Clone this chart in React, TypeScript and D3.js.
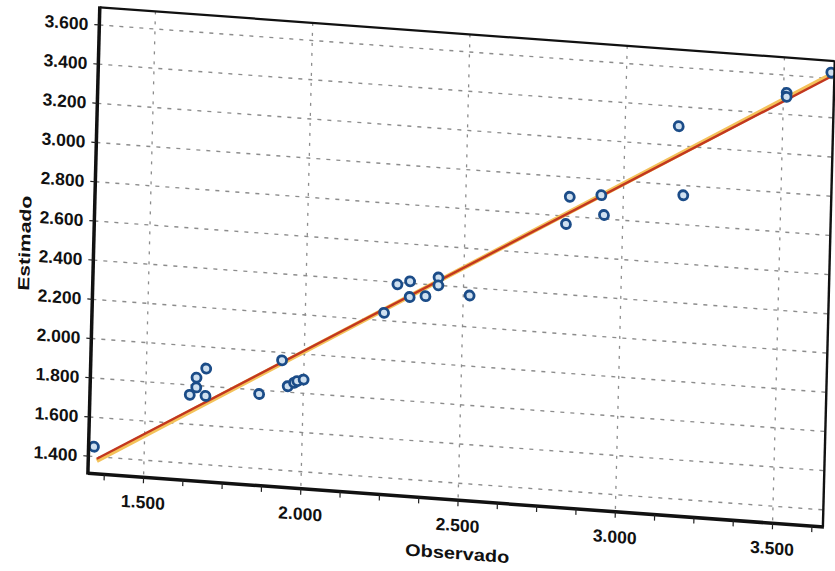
import React from "react";
import * as d3 from "d3";

const observed = [
  1.34, 1.64, 1.66, 1.66, 1.69, 1.69, 1.86, 1.93, 1.95, 1.97, 1.98, 2.0,
  2.25, 2.29, 2.33, 2.33, 2.38, 2.42, 2.42, 2.52,
  2.83, 2.82, 2.93, 2.94, 3.17, 3.19, 3.51, 3.51, 3.65,
];
const estimated = [
  1.45, 1.75, 1.79, 1.84, 1.89, 1.75, 1.78, 1.96, 1.83, 1.85, 1.86, 1.87,
  2.24, 2.39, 2.41, 2.33, 2.34, 2.44, 2.4, 2.36,
  2.9, 2.76, 2.92, 2.82, 3.3, 2.95, 3.51, 3.49, 3.63,
];

// Fitted lines (endpoints)
const fitObs = [1.35, 3.65];
const fitEstRed = [1.39, 3.61];
const fitEstYellow = [1.38, 3.62];

const xTicks = [1.5, 2.0, 2.5, 3.0, 3.5];
const xTickLabels = ["1.500", "2.000", "2.500", "3.000", "3.500"];
const yTicks = [1.4, 1.6, 1.8, 2.0, 2.2, 2.4, 2.6, 2.8, 3.0, 3.2, 3.4, 3.6];
const yTickLabels = [
  "1.400", "1.600", "1.800", "2.000", "2.200", "2.400",
  "2.600", "2.800", "3.000", "3.200", "3.400", "3.600",
];
const xAxisTitle = "Observado";
const yAxisTitle = "Estimado";

const W = 835;
const H = 571;
const DOMAIN = { xMin: 1.323, xMax: 3.66, yMin: 1.313, yMax: 3.69 };

export default function App() {
  const x = d3.scaleLinear().domain([1.5, 3.5]).range([155, 784]);
  const y = d3.scaleLinear().domain([1.4, 3.6]).range([460.2, 29]);
  const left = x(DOMAIN.xMin);
  const right = x(DOMAIN.xMax);
  const top = y(DOMAIN.yMax);
  const bottom = y(DOMAIN.yMin);
  const minorTicks = d3.range(1.375, DOMAIN.xMax, 0.125);
  const font = "'Liberation Sans', Arial, sans-serif";
  const line = d3
    .line<[number, number]>()
    .x((d) => x(d[0]))
    .y((d) => y(d[1]));
  const redPts: [number, number][] = fitObs.map((o, i) => [o, fitEstRed[i]]);
  const yelPts: [number, number][] = fitObs.map((o, i) => [o, fitEstYellow[i]]);

  return (
    <svg
      width={W}
      height={H}
      style={{ position: "absolute", left: 0, top: 0, background: "#fff" }}
    >
      <rect width={W} height={H} fill="#fff" />
      <g transform="matrix(1,0.07313,-0.02551,1,0.740,-11.335)">
        {/* grid */}
        {yTicks.map((t) => (
          <line
            key={"gy" + t}
            x1={left}
            x2={right}
            y1={y(t)}
            y2={y(t)}
            stroke="#8c8c8c"
            strokeWidth={1.4}
            strokeDasharray="4 6"
          />
        ))}
        {xTicks.map((t) => (
          <line
            key={"gx" + t}
            x1={x(t)}
            x2={x(t)}
            y1={top}
            y2={bottom}
            stroke="#8c8c8c"
            strokeWidth={1.3}
            strokeDasharray="3 7"
          />
        ))}
        {/* fitted lines */}
        <path d={line(yelPts) || ""} stroke="#f4c25a" strokeWidth={4.5} fill="none" />
        <path d={line(redPts) || ""} stroke="#c2371f" strokeWidth={2.4} fill="none" />
        {/* points */}
        {observed.map((o, i) => (
          <circle
            key={"p" + i}
            cx={x(o)}
            cy={y(estimated[i])}
            r={4.5}
            fill="#cfe0f0"
            stroke="#1b4c88"
            strokeWidth={2.8}
          />
        ))}
        {/* frame */}
        <line x1={left} x2={right} y1={top} y2={top} stroke="#111" strokeWidth={2.2} />
        <line x1={right} x2={right} y1={top} y2={bottom} stroke="#111" strokeWidth={2.4} />
        <line x1={left} x2={left} y1={top - 1} y2={bottom + 1.5} stroke="#111" strokeWidth={3.5} />
        <line x1={left} x2={right + 1} y1={bottom} y2={bottom} stroke="#111" strokeWidth={3.5} />
        {/* ticks */}
        {minorTicks.map((t) => (
          <line key={"mt" + t} x1={x(t)} x2={x(t)} y1={bottom} y2={bottom + 6} stroke="#222" strokeWidth={1.2} />
        ))}
        {yTicks.map((t) => (
          <line key={"yt" + t} x1={left - 5} x2={left} y1={y(t)} y2={y(t)} stroke="#222" strokeWidth={1.2} />
        ))}
        {/* tick labels */}
        {yTicks.map((t, i) => (
          <text
            key={"yl" + t}
            x={left - 11}
            y={y(t) + 6}
            textAnchor="end"
            fontFamily={font}
            fontWeight="bold"
            fontSize={17.5}
            fill="#111"
          >
            {yTickLabels[i]}
          </text>
        ))}
        {xTicks.map((t, i) => (
          <text
            key={"xl" + t}
            x={x(t)}
            y={bottom + 31}
            textAnchor="middle"
            fontFamily={font}
            fontWeight="bold"
            fontSize={17.5}
            fill="#111"
          >
            {xTickLabels[i]}
          </text>
        ))}
        {/* axis titles */}
        <text
          x={470}
          y={bottom + 59}
          textAnchor="middle"
          fontFamily={font}
          fontWeight="bold"
          fontSize={17}
          textLength={104}
          lengthAdjust="spacingAndGlyphs"
          fill="#111"
        >
          {xAxisTitle}
        </text>
        <text
          transform={`translate(36, ${(top + bottom) / 2 + 8}) rotate(-90)`}
          textAnchor="middle"
          fontFamily={font}
          fontWeight="bold"
          fontSize={16}
          textLength={95}
          lengthAdjust="spacingAndGlyphs"
          fill="#111"
        >
          {yAxisTitle}
        </text>
      </g>
    </svg>
  );
}
